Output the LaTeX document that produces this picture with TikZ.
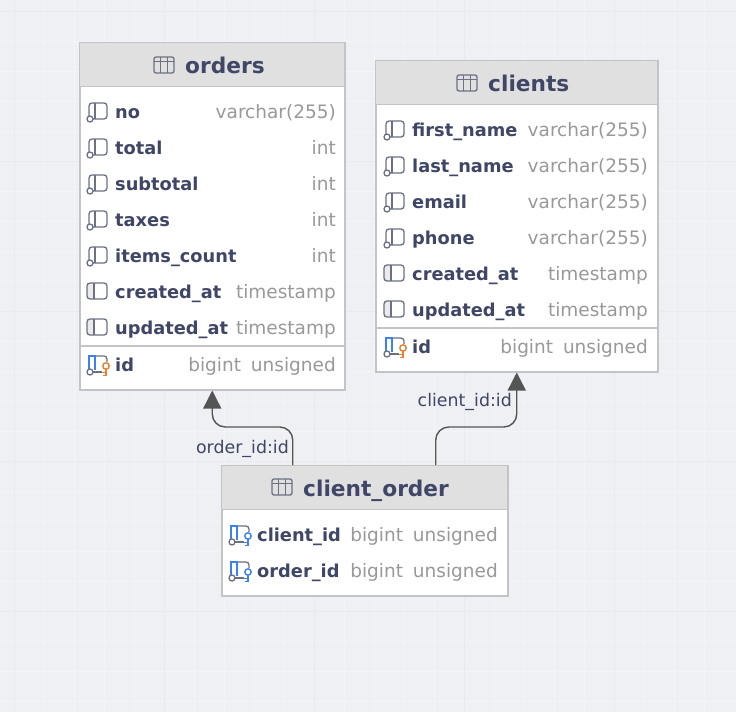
\documentclass[tikz,border=0pt]{standalone}
\usepackage{fontspec}
\setmainfont{DejaVu Sans}
\usetikzlibrary{arrows.meta}

\definecolor{canvasbg}{HTML}{EFF0F4}
\definecolor{gridminor}{HTML}{F3F4F7}
\definecolor{gridmajor}{HTML}{E9EAEF}
\definecolor{tablehead}{HTML}{E0E0E0}
\definecolor{tableedge}{HTML}{C2C4C8}
\definecolor{fieldname}{HTML}{3F4666}
\definecolor{fieldtype}{HTML}{999999}
\definecolor{iconline}{HTML}{6B7084}
\definecolor{iconblue}{HTML}{3B82F0}
\definecolor{iconorange}{HTML}{E8802E}
\definecolor{relcolor}{HTML}{555555}

\tikzset{
  tablebox/.style={draw=tableedge, line width=1.5pt, fill=white, inner sep=0pt, anchor=north west},
  headbox/.style={draw=tableedge, line width=1pt, fill=tablehead, inner sep=0pt, anchor=north west},
  headtext/.style={text=fieldname, font=\bfseries\fontsize{21.7}{24}\selectfont, anchor=base west, inner sep=0pt},
  nametext/.style={text=fieldname, font=\bfseries\fontsize{17.8}{20}\selectfont, anchor=base west, inner sep=0pt},
  typetext/.style={text=fieldtype, font=\fontsize{18.5}{20}\selectfont, anchor=base east, inner sep=0pt},
  reltext/.style={text=fieldname, font=\fontsize{17.4}{20}\selectfont, anchor=base east, inner sep=0pt},
  relation/.style={draw=relcolor, line width=1.4pt, rounded corners=13pt, -{Triangle[width=18pt,length=18pt]}},
}

\newcommand\starttable[3]{
  \pgfmathparse{#1}\let\iconx\pgfmathresult
  \pgfmathparse{#2}\let\typex\pgfmathresult
  \pgfmathparse{#3}\let\y\pgfmathresult
}
\newcommand\bigintlabel{bigint\hspace{4pt} unsigned}
% field icon, centred on the row
\newcommand\iconcircle{
  \draw[iconline, line width=1.3pt] (4, 7) circle (3);
}
\newcommand\iconplain{
  \begin{scope}[shift={(\iconx, \y)}]
    \draw[iconline, line width=1.3pt, rounded corners=3pt] (3, 4) -- (3, -9) -- (21, -9) -- (21, 7) -- (7, 7);
    \draw[iconline, line width=1.3pt] (9, -9) -- (9, 7);
    \iconcircle
  \end{scope}
}
\newcommand\iconstamp{
  \begin{scope}[shift={(\iconx, \y)}]
    \fill[black!8, rounded corners=2pt] (1, -9) rectangle (8, 7);
    \draw[iconline, line width=1.3pt, rounded corners=3pt] (1, -9) rectangle (21, 7);
    \draw[iconline, line width=1.3pt] (8, -9) -- (8, 7);
  \end{scope}
}
\newcommand\iconkey[1]{
  \begin{scope}[shift={(\iconx, \y)}]
    \draw[iconline, line width=1.3pt, rounded corners=3pt] (9, -9) -- (21, -9) -- (21, -3);
    \draw[iconline, line width=1.3pt] (7, 7) -- (16, 7);
    \draw[iconblue, line width=1.4pt] (3, 4) -- (3, -9) -- (9, -9) -- (9, 5);
    \iconcircle
    \draw[#1, line width=1.4pt] (20, 1) circle (3.2);
    \draw[#1, line width=1.4pt] (20, 4) -- (20, 11) (20, 7.5) -- (16, 7.5) (20, 10.5) -- (17, 10.5);
  \end{scope}
}
\newcommand\fieldtext[4]{
  \node[nametext] (#1) at (\iconx + 29, \y + 6) {#2};
  \node[typetext] (#1-type) at (\typex, \y + 6) {#3};
  \pgfmathparse{\y + #4}\let\y\pgfmathresult
}
\newcommand\fieldrow[3]{
  \iconplain
  \fieldtext{#1}{#2}{#3}{36}
}
\newcommand\stamprow[3]{
  \iconstamp
  \fieldtext{#1}{#2}{#3}{36}
}
\newcommand\keyrow[4]{
  \iconkey{#4}
  \fieldtext{#1}{#2}{#3}{36}
}
\newcommand\tableicon[2]{
  \begin{scope}[shift={(#1, #2)}]
    \draw[iconline, line width=1.3pt, rounded corners=2pt] (-10, -8) rectangle (10, 8);
    \draw[iconline, line width=1pt] (-10, -3.5) -- (10, -3.5) (-3.5, -8) -- (-3.5, 8) (3.5, -8) -- (3.5, 8);
  \end{scope}
}

\begin{document}
\begin{tikzpicture}[x=1pt, y=-1pt]
    \useasboundingbox (0, 0) rectangle (736, 712);
    \fill[canvasbg] (0, 0) rectangle (736, 712);
    % canvas grid
    \foreach \gx in {44, 74, 104, 134, 194, 224, 254, 284, 344, 374, 404, 434, 494, 524, 554, 584, 644, 674, 704}
      \draw[gridminor, line width=1pt] (\gx, 0) -- (\gx, 712);
    \foreach \gy in {41, 71, 101, 131, 191, 221, 251, 281, 341, 371, 401, 431, 491, 521, 551, 581, 641, 671, 701}
      \draw[gridminor, line width=1pt] (0, \gy) -- (736, \gy);
    \foreach \gx in {14, 164, 314, 464, 614}
      \draw[gridmajor, line width=1pt] (\gx, 0) -- (\gx, 712);
    \foreach \gy in {11, 161, 311, 461, 611}
      \draw[gridmajor, line width=1pt] (0, \gy) -- (736, \gy);

    % orders
    \node[tablebox, minimum width=265pt, minimum height=347pt] (orders) at (79, 42) {};
    \node[headbox, minimum width=265pt, minimum height=44pt] (ordershead) at (79, 42) {};
    \node[headtext] (orderstitle) at (185, 73) {orders};
    \tableicon{164}{65}
    \draw[tableedge, line width=1.5pt] (79, 346) -- (344, 346);
    \starttable{86}{336}{112}
    \fieldrow{no}{no}{varchar(255)}
    \fieldrow{total}{total}{int}
    \fieldrow{subtotal}{subtotal}{int}
    \fieldrow{taxes}{taxes}{int}
    \fieldrow{itemscount}{items\_count}{int}
    \stamprow{ocreated}{created\_at}{timestamp}
    \stamprow{oupdated}{updated\_at}{timestamp}
    \pgfmathparse{\y + 1}\let\y\pgfmathresult
    \keyrow{oid}{id}{\bigintlabel}{iconorange}

    % clients
    \node[tablebox, minimum width=282pt, minimum height=311pt] (clients) at (375, 60) {};
    \node[headbox, minimum width=282pt, minimum height=44pt] (clientshead) at (375, 60) {};
    \node[headtext] (clientstitle) at (488, 91) {clients};
    \tableicon{467}{83}
    \draw[tableedge, line width=1.5pt] (375, 328) -- (657, 328);
    \starttable{383}{648}{130}
    \fieldrow{firstname}{first\_name}{varchar(255)}
    \fieldrow{lastname}{last\_name}{varchar(255)}
    \fieldrow{email}{email}{varchar(255)}
    \fieldrow{phone}{phone}{varchar(255)}
    \stamprow{ccreated}{created\_at}{timestamp}
    \stamprow{cupdated}{updated\_at}{timestamp}
    \pgfmathparse{\y + 1}\let\y\pgfmathresult
    \keyrow{cid}{id}{\bigintlabel}{iconorange}

    % client_order
    \node[tablebox, minimum width=286pt, minimum height=130pt] (clientorder) at (221, 465) {};
    \node[headbox, minimum width=286pt, minimum height=44pt] (clientorderhead) at (221, 465) {};
    \node[headtext] (clientordertitle) at (303, 496) {client\_order};
    \tableicon{282}{487}
    \starttable{228}{498}{535}
    \keyrow{coclient}{client\_id}{\bigintlabel}{iconblue}
    \keyrow{coorder}{order\_id}{\bigintlabel}{iconblue}

    % relations
    \draw[relation] ([xshift=-72pt]clientorder.north) |- ++(-40, -38) -| (orders.south);
    \draw[relation] ([xshift=71pt]clientorder.north) |- ++(40, -38) -| (clients.south);
    \node[reltext] (orderrel) at (289, 453) {order\_id:id};
    \node[reltext] (clientrel) at (512, 406) {client\_id:id};
\end{tikzpicture}
\end{document}
